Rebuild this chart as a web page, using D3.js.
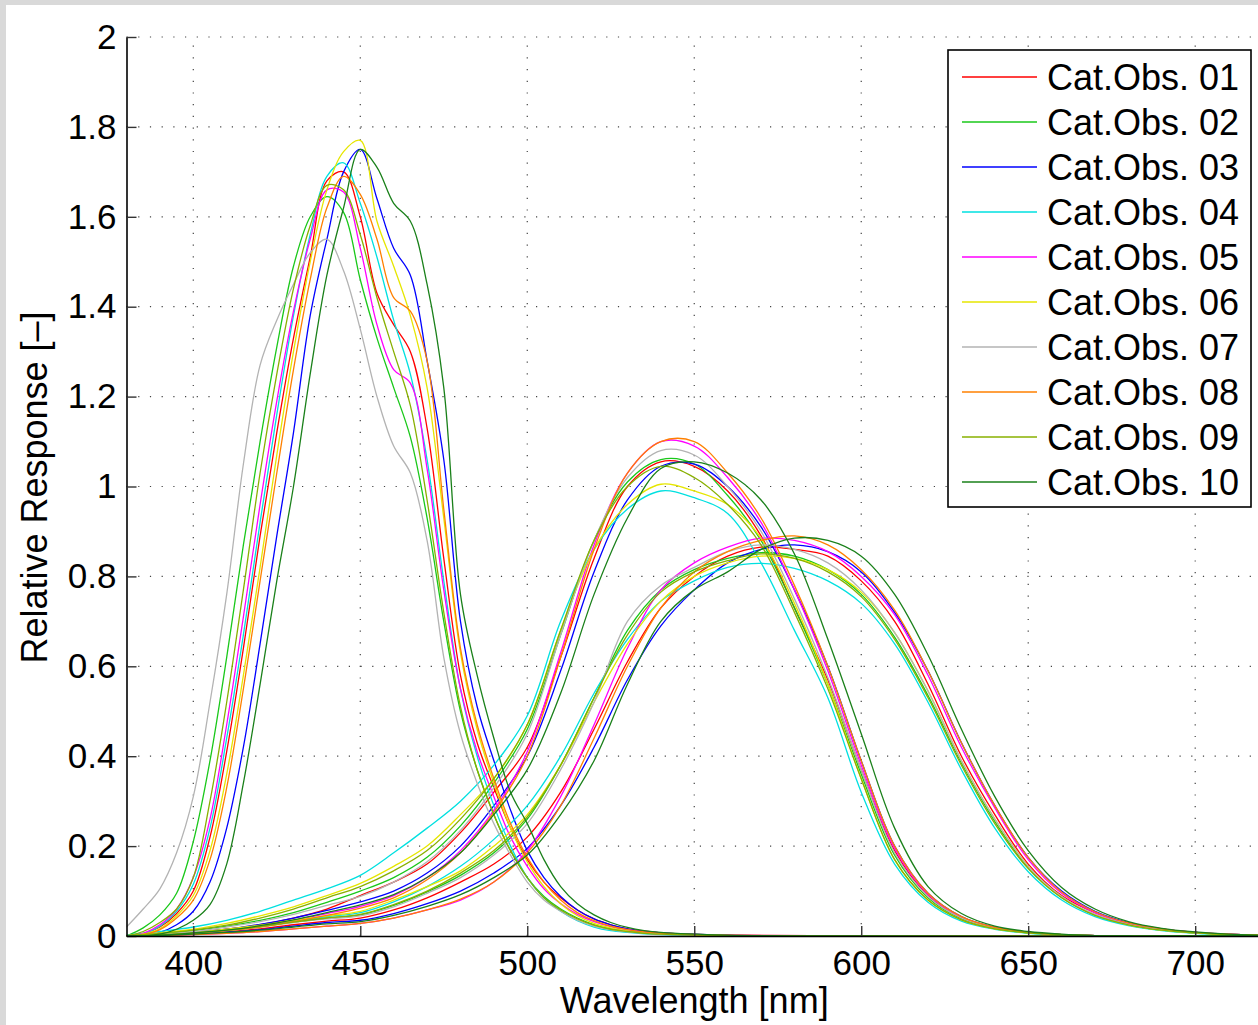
<!DOCTYPE html>
<html>
<head>
<meta charset="utf-8">
<script src="https://cdn.jsdelivr.net/npm/d3@7"></script>
<style>
  body { margin: 0; background: #fff; }
  text { font-family: "Liberation Sans", Arial, Helvetica, sans-serif; }
</style>
</head>
<body>
<div id="chart"></div>
<script>
// wavelength grids (nm)
var sWave = [380,385,390,395,400,405,410,415,420,425,430,435,440,445,450,455,460,465,470,475,
             480,485,490,495,500,505,510,515,520,525,530,535,540,560,600,720];
var mlWave = [380,390,400,410,420,430,440,450,460,470,480,490,500,510,520,530,540,550,560,570,
              580,590,600,610,620,630,640,650,660,670,680,690,700,710,720];

var observers = ["Cat.Obs. 01","Cat.Obs. 02","Cat.Obs. 03","Cat.Obs. 04","Cat.Obs. 05",
                 "Cat.Obs. 06","Cat.Obs. 07","Cat.Obs. 08","Cat.Obs. 09","Cat.Obs. 10"];
var colors = ["#ff0000","#1ac81a","#0000ff","#00e0e0","#ff00ff",
              "#e6e600","#b3b3b3","#ff8000","#88b000","#1a801a"];

// S cone responses (on sWave)
var s01 = [0,.005,.02,.05,.10,.22,.41,.64,.89,1.12,1.33,1.51,1.68,1.70,1.60,1.43,1.36,1.30,1.13,.84,.58,.43,.33,.24,.17,.12,.085,.058,.038,.025,.016,.011,.007,.002,0,0];
var s02 = [0,.018,.047,.095,.21,.39,.62,.87,1.10,1.31,1.49,1.60,1.645,1.61,1.46,1.33,1.22,1.11,.93,.70,.50,.37,.27,.19,.13,.088,.06,.04,.025,.016,.01,.007,.005,.001,0,0];
var s03 = [0,.002,.008,.025,.055,.12,.24,.42,.65,.89,1.12,1.38,1.55,1.70,1.75,1.64,1.53,1.47,1.28,1.06,.70,.51,.39,.28,.19,.13,.088,.058,.038,.025,.016,.01,.007,.002,0,0];
var s04 = [0,.005,.022,.055,.115,.24,.44,.67,.92,1.16,1.38,1.56,1.69,1.72,1.63,1.51,1.37,1.25,1.06,.79,.55,.40,.29,.20,.13,.085,.055,.034,.02,.012,.008,.005,.003,.001,0,0];
var s05 = [0,.006,.025,.06,.13,.26,.47,.71,.96,1.19,1.39,1.55,1.66,1.655,1.53,1.36,1.26,1.23,1.04,.77,.55,.41,.31,.22,.155,.105,.072,.048,.032,.021,.014,.009,.006,.002,0,0];
var s06 = [0,.004,.016,.045,.09,.19,.36,.58,.82,1.07,1.30,1.50,1.66,1.745,1.77,1.59,1.49,1.38,1.22,.93,.63,.46,.34,.24,.165,.11,.072,.045,.028,.018,.011,.007,.005,.001,0,0];
var s07 = [.02,.06,.105,.185,.31,.52,.76,1.05,1.27,1.37,1.45,1.52,1.55,1.48,1.35,1.20,1.09,1.03,.88,.62,.45,.34,.25,.18,.12,.08,.055,.035,.022,.014,.009,.006,.004,.001,0,0];
var s08 = [0,.003,.014,.04,.08,.17,.33,.55,.79,1.03,1.26,1.46,1.62,1.69,1.65,1.55,1.42,1.39,1.28,.95,.64,.47,.35,.25,.175,.12,.08,.052,.034,.022,.014,.009,.006,.002,0,0];
var s09 = [0,.01,.03,.06,.13,.30,.52,.77,1.03,1.25,1.44,1.58,1.67,1.66,1.56,1.42,1.30,1.18,.97,.72,.51,.37,.27,.19,.13,.085,.058,.038,.024,.015,.01,.006,.004,.001,0,0];
var s10 = [0,0,.004,.015,.035,.07,.16,.34,.56,.79,1.00,1.25,1.47,1.62,1.75,1.71,1.63,1.59,1.45,1.22,.76,.58,.44,.32,.25,.17,.11,.072,.047,.03,.019,.012,.008,.002,0,0];

// M cone responses (on mlWave)
var m01 = [0,.003,.008,.015,.025,.04,.06,.09,.12,.16,.23,.32,.42,.62,.84,1.00,1.055,1.045,.99,.89,.73,.57,.37,.19,.09,.04,.018,.008,.003,.001,0,0,0,0,0];
var m02 = [.001,.005,.012,.022,.035,.052,.075,.10,.13,.175,.245,.34,.46,.67,.88,1.01,1.06,1.05,.98,.88,.73,.56,.36,.18,.085,.038,.017,.007,.003,.001,0,0,0,0,0];
var m03 = [0,.003,.008,.015,.026,.04,.057,.076,.10,.14,.20,.29,.40,.59,.81,.97,1.045,1.05,1.0,.91,.77,.60,.39,.20,.095,.043,.019,.008,.003,.001,0,0,0,0,0];
var m04 = [.002,.01,.02,.035,.055,.08,.105,.135,.185,.24,.30,.38,.49,.70,.86,.95,.99,.975,.94,.83,.68,.53,.32,.16,.075,.033,.015,.006,.002,.001,0,0,0,0,0];
var m05 = [0,.003,.007,.013,.022,.035,.05,.066,.09,.13,.19,.28,.41,.63,.87,1.03,1.10,1.09,1.02,.92,.77,.59,.38,.195,.093,.042,.019,.008,.003,.001,0,0,0,0,0];
var m06 = [.001,.007,.015,.028,.045,.065,.09,.117,.155,.20,.27,.35,.47,.68,.86,.96,1.005,.99,.96,.885,.74,.56,.35,.17,.08,.036,.016,.007,.003,.001,0,0,0,0,0];
var m07 = [.001,.004,.01,.02,.032,.048,.068,.088,.12,.165,.235,.33,.45,.67,.88,1.02,1.08,1.07,1.0,.90,.75,.575,.37,.185,.088,.04,.018,.008,.003,.001,0,0,0,0,0];
var m08 = [0,.002,.006,.012,.02,.032,.046,.062,.085,.125,.185,.275,.40,.62,.86,1.03,1.10,1.10,1.03,.93,.78,.60,.39,.20,.095,.043,.019,.008,.003,.001,0,0,0,0,0];
var m09 = [.001,.006,.013,.024,.04,.06,.085,.11,.145,.19,.26,.35,.47,.68,.88,1.0,1.045,1.02,.96,.87,.72,.55,.35,.17,.08,.036,.016,.007,.003,.001,0,0,0,0,0];
var m10 = [0,.002,.007,.013,.023,.036,.052,.069,.092,.13,.185,.27,.37,.54,.76,.93,1.04,1.055,1.03,.97,.85,.66,.45,.24,.11,.05,.022,.01,.004,.001,0,0,0,0,0];

// L cone responses (on mlWave)
var l01 = [0,.002,.005,.01,.016,.025,.033,.04,.058,.085,.12,.16,.22,.32,.46,.61,.73,.80,.845,.865,.86,.845,.79,.70,.56,.40,.27,.16,.09,.052,.028,.015,.008,.004,.002];
var l02 = [0,.003,.007,.013,.021,.031,.04,.047,.068,.098,.135,.185,.26,.38,.53,.68,.77,.815,.84,.853,.845,.815,.76,.665,.535,.385,.255,.152,.086,.047,.025,.013,.007,.003,.002];
var l03 = [0,.002,.005,.009,.014,.022,.03,.035,.05,.072,.10,.14,.195,.29,.42,.57,.69,.77,.83,.86,.87,.855,.81,.72,.59,.43,.29,.175,.10,.055,.03,.016,.008,.004,.002];
var l04 = [0,.003,.008,.014,.022,.033,.043,.052,.076,.11,.155,.215,.29,.40,.54,.66,.745,.79,.82,.829,.818,.79,.74,.65,.52,.37,.24,.143,.08,.043,.023,.012,.006,.003,.002];
var l05 = [0,.001,.003,.006,.01,.016,.022,.028,.04,.058,.08,.12,.19,.31,.47,.64,.77,.83,.865,.885,.88,.855,.80,.715,.58,.42,.285,.17,.095,.052,.028,.015,.008,.004,.002];
var l06 = [0,.003,.008,.015,.024,.035,.045,.055,.08,.11,.145,.20,.27,.38,.52,.65,.745,.80,.83,.845,.84,.815,.765,.675,.545,.39,.26,.155,.087,.047,.025,.013,.007,.003,.002];
var l07 = [0,.003,.007,.012,.02,.03,.038,.045,.065,.095,.13,.18,.25,.37,.52,.70,.78,.82,.855,.87,.86,.83,.77,.675,.545,.39,.26,.155,.088,.048,.026,.014,.007,.004,.002];
var l08 = [0,.001,.003,.006,.01,.016,.022,.028,.04,.058,.082,.12,.185,.29,.44,.60,.73,.81,.855,.88,.89,.87,.815,.725,.59,.43,.29,.175,.098,.054,.029,.016,.008,.004,.002];
var l09 = [0,.003,.007,.013,.021,.031,.04,.048,.07,.10,.14,.19,.265,.38,.53,.67,.765,.81,.835,.85,.84,.81,.755,.66,.53,.38,.25,.15,.085,.046,.025,.013,.007,.003,.002];
var l10 = [0,.001,.004,.008,.013,.02,.027,.032,.046,.066,.092,.13,.18,.27,.39,.56,.70,.77,.81,.86,.885,.88,.845,.76,.625,.46,.31,.19,.108,.06,.032,.017,.009,.004,.002];

var xTicks = [400,450,500,550,600,650,700];
var yTicks = [0,0.2,0.4,0.6,0.8,1,1.2,1.4,1.6,1.8,2];

var sData = [s01,s02,s03,s04,s05,s06,s07,s08,s09,s10];
var mData = [m01,m02,m03,m04,m05,m06,m07,m08,m09,m10];
var lData = [l01,l02,l03,l04,l05,l06,l07,l08,l09,l10];

var width = 1258, height = 1025;
var svg = d3.select("#chart").append("svg")
  .attr("width", width)
  .attr("height", height);

// grey frame on top/left like the figure window
svg.append("rect").attr("width", width).attr("height", height).attr("fill", "#d9d9d9");
svg.append("rect").attr("x", 6).attr("y", 5).attr("width", width - 6).attr("height", height - 5).attr("fill", "#fff");

var x = d3.scaleLinear().domain([380, 720]).range([126.5, 1262]);
var y = d3.scaleLinear().domain([0, 2]).range([936, 37]);

// dotted grid
var grid = svg.append("g").attr("stroke", "#444").attr("stroke-width", 1.2).attr("stroke-dasharray", "1.2,10.5");
grid.selectAll(".gx").data(xTicks).enter().append("line")
  .attr("x1", function(d) { return x(d); }).attr("x2", function(d) { return x(d); })
  .attr("y1", y(0)).attr("y2", y(2));
grid.selectAll(".gy").data(yTicks.slice(1)).enter().append("line")
  .attr("x1", x(380)).attr("x2", x(720))
  .attr("y1", function(d) { return y(d); }).attr("y2", function(d) { return y(d); });

// curves
svg.append("clipPath").attr("id", "plotclip").append("rect")
  .attr("x", x(380)).attr("y", y(2) - 2).attr("width", x(720) - x(380)).attr("height", y(0) - y(2) + 3);

var line = d3.line()
  .x(function(d) { return x(d[0]); })
  .y(function(d) { return y(Math.max(0, d[1])); })
  .curve(d3.curveCatmullRom.alpha(0.5));

function zip(waves, vals) {
  return waves.map(function(w, i) { return [w, vals[i]]; })
    .filter(function(d) { return d[1] !== undefined; });
}

var curves = svg.append("g").attr("clip-path", "url(#plotclip)").attr("fill", "none").attr("stroke-width", 1.3);
observers.forEach(function(name, i) {
  [zip(sWave, sData[i]), zip(mlWave, mData[i]), zip(mlWave, lData[i])].forEach(function(pts) {
    curves.append("path").attr("d", line(pts)).attr("stroke", colors[i]);
  });
});

// axes, ticks pointing inward
var yAxis = svg.append("g")
  .attr("transform", "translate(" + x(380) + ",0)")
  .call(d3.axisLeft(y).tickValues(yTicks).tickSize(-10).tickSizeOuter(0).tickPadding(10).tickFormat(d3.format("~g")));
var xAxis = svg.append("g")
  .attr("transform", "translate(0," + y(0) + ")")
  .call(d3.axisBottom(x).tickValues(xTicks).tickSize(-10).tickSizeOuter(0).tickPadding(14));

[xAxis, yAxis].forEach(function(ax) {
  ax.select(".domain").attr("stroke", "#000").attr("stroke-width", 1.6);
  ax.selectAll(".tick line").attr("stroke", "#333").attr("stroke-width", 1.4);
  ax.selectAll(".tick text").attr("fill", "#000").style("font-size", "35px")
    .style("font-family", "'Liberation Sans', Arial, Helvetica, sans-serif");
});

// axis titles
svg.append("text")
  .attr("x", (x(380) + x(720)) / 2)
  .attr("y", 1013)
  .attr("text-anchor", "middle")
  .style("font-size", "36px")
  .text("Wavelength [nm]");

svg.append("text")
  .attr("transform", "translate(47," + (y(1) + 1) + ") rotate(-90)")
  .attr("text-anchor", "middle")
  .style("font-size", "36px")
  .text("Relative Response [–]");

// legend
var legend = svg.append("g");
legend.append("rect")
  .attr("x", 948).attr("y", 50).attr("width", 303).attr("height", 457)
  .attr("fill", "#fff").attr("stroke", "#000").attr("stroke-width", 1.6);
var items = legend.selectAll(".item").data(observers).enter().append("g")
  .attr("transform", function(d, i) { return "translate(0," + (77 + 45 * i) + ")"; });
items.append("line")
  .attr("x1", 962).attr("x2", 1037)
  .attr("stroke", function(d, i) { return colors[i]; })
  .attr("stroke-width", 1.4);
items.append("text")
  .attr("x", 1047).attr("dy", "0.35em")
  .style("font-size", "36px")
  .text(function(d) { return d; });
</script>
</body>
</html>
